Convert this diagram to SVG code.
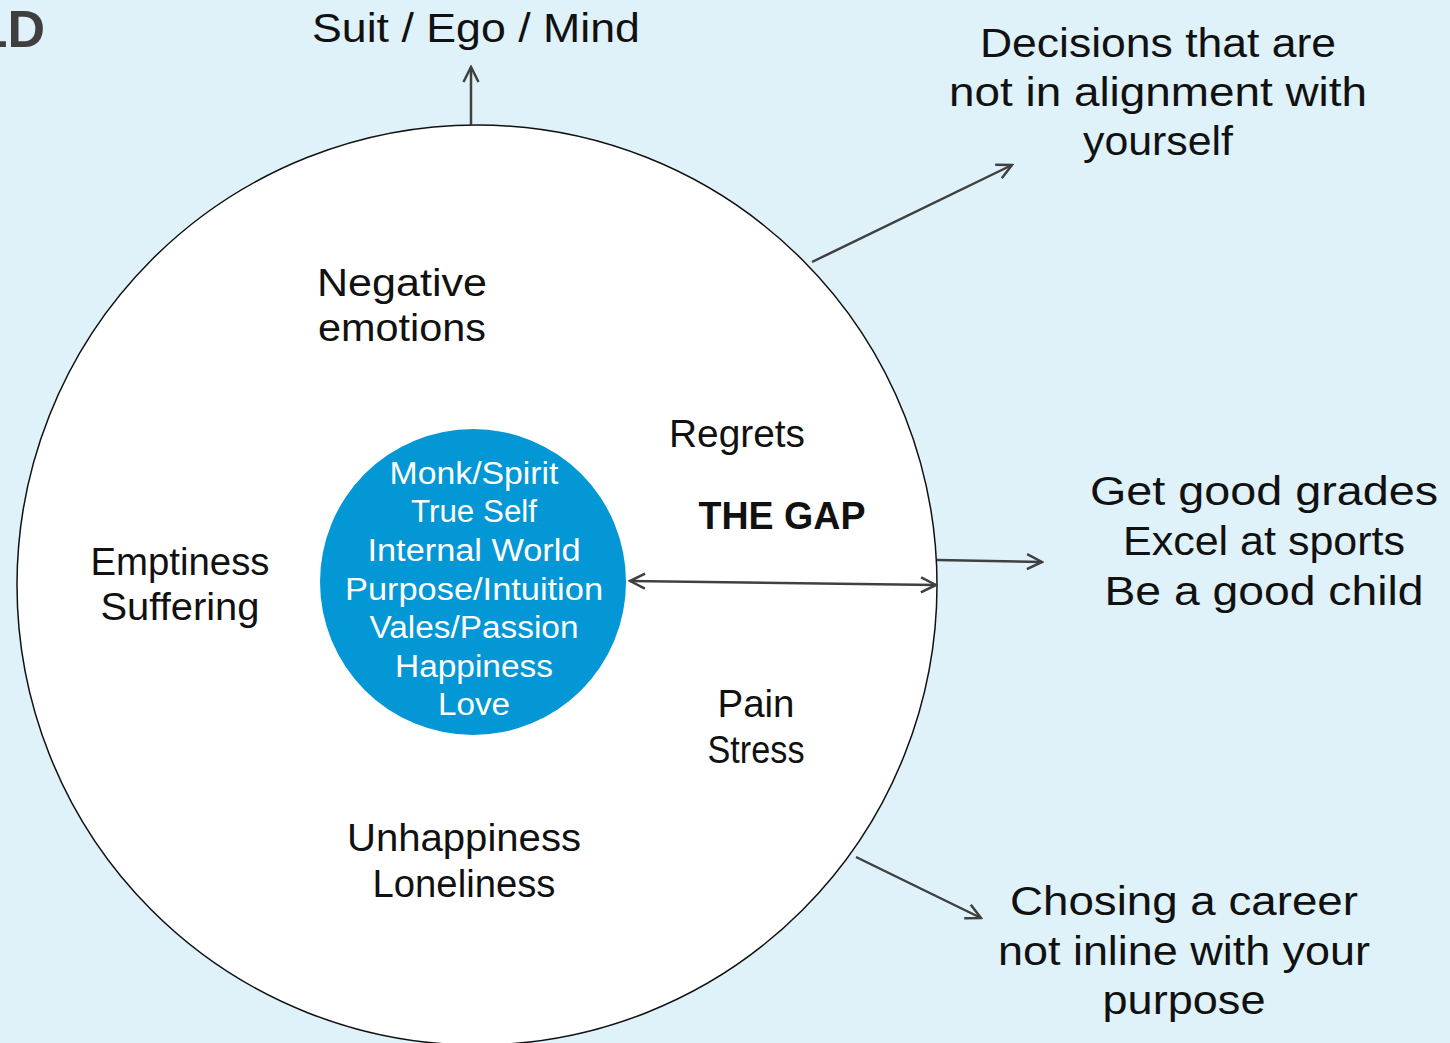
<svg xmlns="http://www.w3.org/2000/svg" width="1450" height="1043" viewBox="0 0 1450 1043">
  <style>
    .lbl { font-family: "Liberation Sans", "DejaVu Sans", sans-serif; fill: #111111; text-anchor: middle; }
    .big { font-size: 41px; }
    .mid { font-size: 38px; }
    .inner { font-family: "Liberation Sans", "DejaVu Sans", sans-serif; fill: #ffffff; text-anchor: middle; font-size: 31px; }
    .conn { stroke: #404040; stroke-width: 2.5; fill: none; }
  </style>
  <defs>
    <marker id="open" viewBox="0 0 20 20" refX="18" refY="10" markerWidth="20" markerHeight="20" markerUnits="userSpaceOnUse" orient="auto-start-reverse">
      <path d="M3,2.5 L18,10 L3,17.5" fill="none" stroke="#404040" stroke-width="2.5"/>
    </marker>
  </defs>

  <rect x="0" y="0" width="1450" height="1043" fill="#dff1f9"/>

  <!-- partial heading at the corner -->
  <text x="45" y="47" style="font-family: 'Liberation Sans', sans-serif; font-weight: bold; font-size: 52px; fill: #3f3f3f; text-anchor: end;">LD</text>

  <!-- outer world circle -->
  <g id="outer">
    <circle cx="477" cy="585" r="460" fill="#ffffff" stroke="#111111" stroke-width="1.5"/>
  </g>

  <!-- inner true-self circle -->
  <g id="core">
    <circle cx="473" cy="582" r="153" fill="#0497d5"/>
    <text class="inner" x="474" y="484" textLength="169" lengthAdjust="spacingAndGlyphs">Monk/Spirit</text>
    <text class="inner" x="474" y="522" textLength="126" lengthAdjust="spacingAndGlyphs">True Self</text>
    <text class="inner" x="474" y="561" textLength="213" lengthAdjust="spacingAndGlyphs">Internal World</text>
    <text class="inner" x="474" y="600" textLength="258" lengthAdjust="spacingAndGlyphs">Purpose/Intuition</text>
    <text class="inner" x="474" y="638" textLength="209" lengthAdjust="spacingAndGlyphs">Vales/Passion</text>
    <text class="inner" x="474" y="677" textLength="158" lengthAdjust="spacingAndGlyphs">Happiness</text>
    <text class="inner" x="474" y="715" textLength="72" lengthAdjust="spacingAndGlyphs">Love</text>
  </g>

  <!-- labels inside the outer circle -->
  <g id="negative">
    <text class="lbl mid" x="402" y="296" textLength="170" lengthAdjust="spacingAndGlyphs">Negative</text>
    <text class="lbl mid" x="402" y="341" textLength="168" lengthAdjust="spacingAndGlyphs">emotions</text>
  </g>
  <g id="regrets">
    <text class="lbl mid" x="737" y="447" textLength="136" lengthAdjust="spacingAndGlyphs">Regrets</text>
  </g>
  <g id="gap">
    <text class="lbl mid" x="782" y="529" style="font-weight: bold;" textLength="167" lengthAdjust="spacingAndGlyphs">THE GAP</text>
  </g>
  <g id="emptiness">
    <text class="lbl mid" x="180" y="575" textLength="179" lengthAdjust="spacingAndGlyphs">Emptiness</text>
    <text class="lbl mid" x="180" y="620" textLength="159" lengthAdjust="spacingAndGlyphs">Suffering</text>
  </g>
  <g id="pain">
    <text class="lbl mid" x="756" y="717" textLength="77" lengthAdjust="spacingAndGlyphs">Pain</text>
    <text class="lbl mid" x="756" y="763" textLength="97" lengthAdjust="spacingAndGlyphs">Stress</text>
  </g>
  <g id="unhappiness">
    <text class="lbl mid" x="464" y="851" textLength="234" lengthAdjust="spacingAndGlyphs">Unhappiness</text>
    <text class="lbl mid" x="464" y="897" textLength="183" lengthAdjust="spacingAndGlyphs">Loneliness</text>
  </g>

  <!-- outside labels -->
  <g id="suit">
    <text class="lbl big" x="476" y="42" textLength="328" lengthAdjust="spacingAndGlyphs">Suit / Ego / Mind</text>
  </g>
  <g id="decisions">
    <text class="lbl big" x="1158" y="57" textLength="356" lengthAdjust="spacingAndGlyphs">Decisions that are</text>
    <text class="lbl big" x="1158" y="106" textLength="418" lengthAdjust="spacingAndGlyphs">not in alignment with</text>
    <text class="lbl big" x="1158" y="155" textLength="150" lengthAdjust="spacingAndGlyphs">yourself</text>
  </g>
  <g id="expectations">
    <text class="lbl big" x="1264" y="505" textLength="348" lengthAdjust="spacingAndGlyphs">Get good grades</text>
    <text class="lbl big" x="1264" y="555" textLength="282" lengthAdjust="spacingAndGlyphs">Excel at sports</text>
    <text class="lbl big" x="1264" y="605" textLength="319" lengthAdjust="spacingAndGlyphs">Be a good child</text>
  </g>
  <g id="career">
    <text class="lbl big" x="1184" y="915" textLength="348" lengthAdjust="spacingAndGlyphs">Chosing a career</text>
    <text class="lbl big" x="1184" y="965" textLength="372" lengthAdjust="spacingAndGlyphs">not inline with your</text>
    <text class="lbl big" x="1184" y="1014" textLength="163" lengthAdjust="spacingAndGlyphs">purpose</text>
  </g>

  <!-- connectors -->
  <g id="connectors">
    <line class="conn" x1="471" y1="125" x2="471" y2="67" marker-end="url(#open)"/>
    <line class="conn" x1="812" y1="262" x2="1012" y2="165" marker-end="url(#open)"/>
    <line class="conn" x1="630" y1="581" x2="936" y2="585" marker-start="url(#open)" marker-end="url(#open)"/>
    <line class="conn" x1="937" y1="560" x2="1042" y2="562" marker-end="url(#open)"/>
    <line class="conn" x1="856" y1="857" x2="981" y2="918" marker-end="url(#open)"/>
  </g>
</svg>
